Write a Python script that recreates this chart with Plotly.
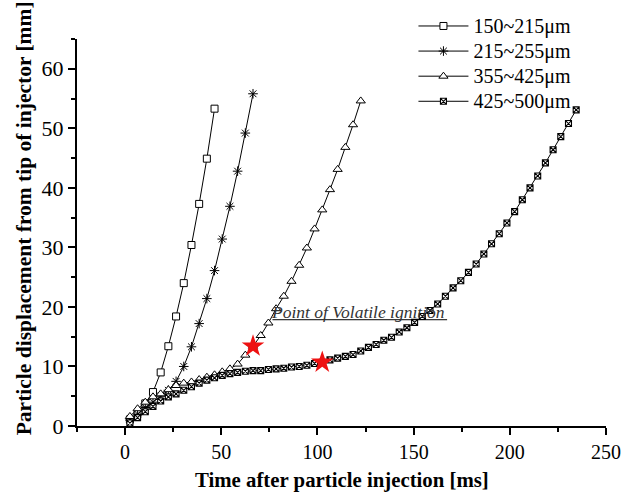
import plotly.graph_objects as go

# ---------------- data ----------------
t_150 = [2.5, 6.5, 10.5, 14.5, 18.5, 22.5, 26.5, 30.5, 34.5, 38.5, 42.5, 46.5]
d_150 = [1.1, 2.2, 3.8, 5.7, 9.0, 13.4, 18.4, 24.0, 30.4, 37.3, 44.9, 53.3]

t_215 = [2.5, 6.5, 10.5, 14.5, 18.5, 22.5, 26.5, 30.5, 34.5, 38.5, 42.5, 46.5,
         50.5, 54.5, 58.5, 62.5, 66.5]
d_215 = [1.0, 2.0, 3.1, 4.0, 5.0, 6.0, 7.5, 10.0, 13.3, 17.2, 21.4, 26.1,
         31.4, 36.9, 42.8, 49.2, 55.8]

t_355 = [2.5, 6.5, 10.5, 14.5, 18.5, 22.5, 26.5, 30.5, 34.5, 38.5, 42.5, 46.5,
         50.5, 54.5, 58.5, 62.5, 66.5, 70.5, 74.5, 78.5, 82.5, 86.5, 90.5, 94.5,
         98.5, 102.5, 106.5, 110.5, 114.5, 118.5, 122.5]
d_355 = [1.6, 2.9, 4.0, 4.9, 5.4, 6.1, 6.8, 7.2, 7.4, 7.8, 8.2, 8.6,
         9.1, 9.6, 10.4, 11.9, 13.4, 15.2, 17.3, 19.7, 21.8, 24.3, 27.0, 29.9,
         33.1, 36.3, 39.7, 43.1, 46.8, 50.6, 54.6]

t_425 = [2.5, 6.5, 10.5, 14.5, 18.5, 22.5, 26.5, 30.5, 34.5, 38.5, 42.5, 46.5,
         50.5, 54.5, 58.5, 62.5, 66.5, 70.5, 74.5, 78.5, 82.5, 86.5, 90.5, 94.5,
         98.5, 102.5, 106.5, 110.5, 114.5, 118.5, 122.5, 126.5, 130.5, 134.5,
         138.5, 142.5, 146.5, 150.5, 154.5, 158.5, 162.5, 166.5, 170.5, 174.5,
         178.5, 182.5, 186.5, 190.5, 194.5, 198.5, 202.5, 206.5, 210.5, 214.5,
         218.5, 222.5, 226.5, 230.5, 234.5]
d_425 = [0.5, 1.4, 2.4, 3.3, 4.2, 4.9, 5.4, 6.0, 6.6, 7.2, 7.7, 8.1,
         8.5, 8.8, 9.0, 9.2, 9.3, 9.3, 9.5, 9.6, 9.7, 9.9, 10.0, 10.2,
         10.5, 10.7, 11.1, 11.4, 11.7, 12.0, 12.6, 13.2, 13.7, 14.4,
         14.9, 15.8, 16.5, 17.4, 18.4, 19.4, 20.5, 21.8, 23.2, 24.4,
         25.8, 27.2, 28.9, 30.6, 32.3, 34.1, 36.0, 38.0, 40.0, 42.0,
         44.2, 46.4, 48.6, 50.8, 53.1]

series_names = ["150~215μm", "215~255μm", "355~425μm", "425~500μm"]

ignition_t = [66.5, 102.5]
ignition_d = [13.4, 10.7]

note_text = "Point of Volatile ignition"
note_x0, note_x1, note_y = 76.6, 167.4, 17.85

x_ticks = [0, 50, 100, 150, 200, 250]
y_ticks = [0, 10, 20, 30, 40, 50, 60]
x_title = "Time after particle injection [ms]"
y_title = "Particle displacement from tip of injector [mm]"

# ---------------- figure ----------------
FONT = "Liberation Serif, Times New Roman, serif"
fig = go.Figure()

styles = [
    dict(symbol="square", size=7, color="white", line=dict(color="black", width=1)),
    dict(symbol="asterisk-open", size=8, color="black", line=dict(color="black", width=1)),
    dict(symbol="triangle-up", size=8, color="white", line=dict(color="black", width=1)),
    dict(symbol="square-x", size=6, color="white", line=dict(color="black", width=1.1)),
]
for t, d, name, st in zip([t_150, t_215, t_355, t_425], [d_150, d_215, d_355, d_425],
                          series_names, styles):
    fig.add_trace(go.Scatter(x=t, y=d, mode="lines+markers",
                             name='<span style="font-size:20px">' + name + '</span>',
                             line=dict(color="black", width=1), marker=st))

fig.add_trace(go.Scatter(x=ignition_t, y=ignition_d, mode="markers", showlegend=False,
                         marker=dict(symbol="star", size=17, color="#ee1111",
                                     line=dict(width=0))))

fig.add_shape(type="line", x0=note_x0, x1=note_x1, y0=note_y, y1=note_y,
              xref="x", yref="y", line=dict(color="black", width=1))
fig.add_annotation(x=note_x0, y=note_y, xref="x", yref="y", text="<i>" + note_text + "</i>",
                   showarrow=False, xanchor="left", yanchor="bottom", yshift=-4, xshift=-3,
                   font=dict(family=FONT, size=17.5, color="#333"))

fig.add_annotation(x=-0.100, y=0.537, xref="paper", yref="paper", text="<b>" + y_title + "</b>",
                   textangle=-90, showarrow=False, xanchor="center", yanchor="middle",
                   font=dict(family=FONT, size=21.5, color="black"))
fig.add_annotation(x=0.5, y=-0.1395, xref="paper", yref="paper", text="<b>" + x_title + "</b>",
                   showarrow=False, xanchor="center", yanchor="middle",
                   font=dict(family=FONT, size=20.8, color="black"))

fig.update_xaxes(range=[-25, 250], tickvals=x_ticks, ticks="outside", ticklen=7, tickwidth=1.5,
                 tickcolor="black", showline=True, linecolor="black", linewidth=2,
                 showgrid=False, zeroline=False,
                 minor=dict(ticks="outside", ticklen=4, tickwidth=1.5, tickcolor="black",
                            tickvals=[-25, 25, 75, 125, 175, 225]),
                 tickfont=dict(family=FONT, size=20, color="black"))
fig.update_yaxes(range=[0, 65], tickvals=y_ticks, ticks="outside", ticklen=7, tickwidth=1.5,
                 tickcolor="black", showline=True, linecolor="black", linewidth=2,
                 showgrid=False, zeroline=False,
                 minor=dict(ticks="outside", ticklen=4, tickwidth=1.5, tickcolor="black",
                            tickvals=[5, 15, 25, 35, 45, 55, 65]),
                 tickfont=dict(family=FONT, size=22, color="black"))

fig.update_layout(
    width=635, height=493,
    margin=dict(l=77, r=29, t=39, b=67, autoexpand=False),
    plot_bgcolor="white", paper_bgcolor="white",
    font=dict(family=FONT, color="black"),
    legend=dict(x=0.636, y=1.079, xanchor="left", yanchor="top",
                bgcolor="rgba(0,0,0,0)", font=dict(family=FONT, size=17, color="black"),
                itemwidth=50, tracegroupgap=0),
)

fig.write_html("out.html", config={"displayModeBar": False},
               post_script="document.body.style.margin='0px';document.body.style.overflow='hidden';")
